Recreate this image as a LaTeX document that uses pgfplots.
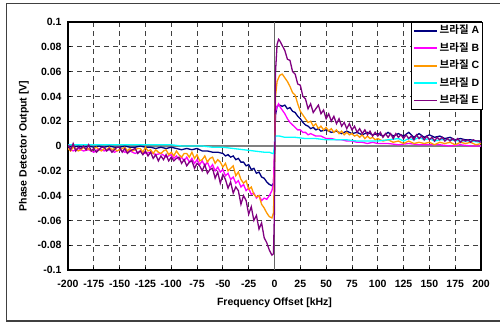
\documentclass[border=0pt]{standalone}
\usepackage{fontspec}
\setmainfont{Liberation Sans}
\newfontfamily\kr{Noto Sans CJK KR}[BoldFont={Noto Sans CJK KR Bold}]
\usepackage{pgfplots}
\pgfplotsset{compat=1.18}
\usepackage{pgfplotstable}
\definecolor{cA}{RGB}{0,0,128}
\definecolor{cB}{RGB}{255,0,255}
\definecolor{cC}{RGB}{255,153,0}
\definecolor{cD}{RGB}{0,255,255}
\definecolor{cE}{RGB}{128,0,128}

\pgfplotstableread{
x y
-200 0.000
-195 -0.001
-190 0.000
-185 -0.001
-180 0.000
-175 -0.001
-170 0.000
-165 -0.001
-160 0.000
-155 -0.001
-150 -0.001
-145 0.000
-140 -0.001
-135 -0.001
-130 0.000
-125 -0.001
-120 -0.001
-115 -0.002
-110 -0.001
-105 -0.002
-100 -0.001
-95 -0.002
-90 -0.003
-85 -0.002
-80 -0.003
-75 -0.002
-70 -0.004
-65 -0.004
-60 -0.005
-55 -0.005
-50 -0.006
-47.5 -0.008
-45 -0.007
-42.5 -0.009
-40 -0.008
-37.5 -0.011
-35 -0.010
-32.5 -0.013
-30 -0.013
-27.5 -0.016
-25 -0.015
-22.5 -0.019
-20 -0.018
-17.5 -0.022
-15 -0.021
-12.5 -0.025
-10 -0.026
-7.5 -0.029
-5 -0.031
-2.5 -0.032
-1 -0.030
0 -0.010
0.5 0.010
1 0.025
2.5 0.032
5 0.033
7.5 0.032
10 0.033
12.5 0.030
15 0.031
17.5 0.028
20 0.027
22.5 0.024
25 0.022
27.5 0.019
30 0.017
32.5 0.016
35 0.014
37.5 0.015
40 0.013
42.5 0.014
45 0.012
50 0.013
55 0.011
60 0.012
65 0.010
70 0.012
75 0.010
80 0.011
85 0.009
90 0.011
95 0.009
100 0.010
105 0.008
110 0.011
115 0.008
120 0.010
125 0.008
130 0.011
135 0.007
140 0.010
145 0.007
150 0.009
155 0.007
160 0.008
165 0.006
170 0.007
175 0.005
180 0.006
185 0.005
190 0.005
195 0.004
200 0.004
}\dataA

\pgfplotstableread{
x y
-200 -0.002
-195 -0.004
-190 -0.002
-185 -0.004
-180 -0.003
-175 -0.005
-170 -0.002
-165 -0.004
-160 -0.003
-155 -0.005
-150 -0.003
-145 -0.005
-140 -0.004
-135 -0.006
-130 -0.004
-125 -0.006
-120 -0.005
-115 -0.007
-110 -0.006
-105 -0.009
-100 -0.007
-97.5 -0.010
-95 -0.008
-92.5 -0.011
-90 -0.009
-87.5 -0.012
-85 -0.009
-82.5 -0.013
-80 -0.010
-77.5 -0.014
-75 -0.011
-72.5 -0.015
-70 -0.012
-67.5 -0.016
-65 -0.013
-62.5 -0.018
-60 -0.015
-57.5 -0.020
-55 -0.017
-52.5 -0.021
-50 -0.019
-47.5 -0.024
-45 -0.022
-42.5 -0.027
-40 -0.025
-37.5 -0.030
-35 -0.028
-32.5 -0.033
-30 -0.031
-27.5 -0.036
-25 -0.034
-22.5 -0.039
-20 -0.038
-17.5 -0.042
-15 -0.040
-12.5 -0.044
-10 -0.042
-7.5 -0.043
-5 -0.040
-2.5 -0.036
-1 -0.030
0 0.000
1 0.028
2.5 0.032
4 0.034
5 0.032
7.5 0.029
10 0.026
12.5 0.022
15 0.019
17.5 0.017
20 0.015
22.5 0.013
25 0.013
27.5 0.011
30 0.011
32.5 0.009
35 0.010
40 0.008
45 0.008
50 0.006
55 0.006
60 0.005
65 0.005
70 0.004
75 0.004
80 0.003
85 0.003
90 0.002
95 0.003
100 0.002
110 0.002
120 0.001
130 0.002
140 0.001
150 0.001
160 0.001
170 0.000
180 0.001
190 0.000
200 0.000
}\dataB

\pgfplotstableread{
x y
-200 -0.002
-197.5 -0.004
-195 -0.001
-192.5 -0.002
-190 -0.004
-187.5 -0.003
-185 -0.001
-182.5 -0.003
-180 -0.002
-177.5 -0.004
-175 -0.002
-172.5 -0.001
-170 -0.003
-167.5 -0.004
-165 -0.002
-162.5 -0.003
-160 -0.001
-157.5 -0.003
-155 -0.002
-152.5 -0.004
-150 -0.003
-147.5 -0.002
-145 -0.001
-142.5 -0.004
-140 -0.002
-137.5 -0.004
-135 -0.003
-132.5 -0.002
-130 -0.002
-127.5 -0.005
-125 -0.001
-122.5 -0.004
-120 -0.003
-117.5 -0.006
-115 -0.003
-112.5 -0.005
-110 -0.006
-107.5 -0.004
-105 -0.003
-102.5 -0.007
-100 -0.005
-97.5 -0.008
-95 -0.004
-92.5 -0.007
-90 -0.009
-87.5 -0.006
-85 -0.006
-82.5 -0.009
-80 -0.005
-77.5 -0.010
-75 -0.007
-72.5 -0.012
-70 -0.011
-67.5 -0.008
-65 -0.013
-62.5 -0.010
-60 -0.009
-57.5 -0.014
-55 -0.011
-52.5 -0.013
-50 -0.017
-47.5 -0.014
-45 -0.020
-42.5 -0.018
-40 -0.016
-37.5 -0.024
-35 -0.021
-32.5 -0.027
-30 -0.030
-27.5 -0.028
-25 -0.035
-22.5 -0.033
-20 -0.039
-17.5 -0.041
-15 -0.040
-12.5 -0.047
-10 -0.050
-7.5 -0.054
-5 -0.057
-2.5 -0.058
-1 -0.054
0 -0.020
0.5 0.020
1 0.040
2.5 0.052
5 0.057
7.5 0.058
10 0.055
12.5 0.052
15 0.048
17.5 0.043
20 0.041
22.5 0.034
25 0.028
27.5 0.025
30 0.022
32.5 0.019
35 0.020
37.5 0.016
40 0.018
42.5 0.014
45 0.016
47.5 0.013
50 0.015
52.5 0.012
55 0.014
57.5 0.011
60 0.013
62.5 0.010
65 0.012
67.5 0.009
70 0.011
72.5 0.009
75 0.010
77.5 0.008
80 0.009
82.5 0.007
85 0.009
87.5 0.006
90 0.008
92.5 0.006
95 0.007
97.5 0.005
100 0.006
105 0.004
110 0.005
115 0.003
120 0.004
125 0.002
130 0.004
135 0.002
140 0.003
145 0.002
150 0.003
155 0.001
160 0.003
165 0.002
170 0.003
175 0.001
180 0.003
185 0.002
190 0.003
195 0.001
200 0.002
}\dataC

\pgfplotstableread{
x y
-200 0.001
-190 0.001
-180 0.001
-170 0.001
-160 0.001
-150 0.001
-140 0.001
-130 0.001
-120 0.001
-110 0.001
-100 0.001
-90 0.000
-80 0.000
-70 0.000
-60 -0.001
-50 -0.001
-40 -0.002
-30 -0.003
-20 -0.004
-10 -0.005
-5 -0.005
-2 -0.006
-1 -0.006
0 0.000
0.5 0.006
1 0.008
5 0.008
10 0.007
20 0.007
30 0.006
40 0.006
50 0.005
60 0.005
70 0.005
80 0.004
90 0.004
100 0.004
110 0.005
120 0.006
125 0.004
130 0.006
135 0.005
140 0.007
145 0.005
150 0.006
155 0.004
160 0.005
170 0.005
180 0.004
190 0.004
200 0.003
}\dataD

\pgfplotstableread{
x y
-200 0.001
-197.5 -0.003
-195 0.002
-192.5 -0.004
-190 -0.001
-187.5 -0.002
-185 0.000
-182.5 -0.003
-180 0.001
-177.5 -0.004
-175 -0.002
-172.5 -0.005
-170 -0.003
-167.5 -0.001
-165 -0.001
-162.5 -0.004
-160 -0.002
-157.5 -0.005
-155 -0.003
-152.5 -0.001
-150 -0.001
-147.5 -0.005
-145 -0.002
-142.5 -0.006
-140 -0.004
-137.5 -0.003
-135 -0.002
-132.5 -0.006
-130 -0.004
-127.5 -0.007
-125 -0.004
-122.5 -0.008
-120 -0.005
-117.5 -0.010
-115 -0.007
-112.5 -0.012
-110 -0.008
-107.5 -0.011
-105 -0.007
-102.5 -0.012
-100 -0.009
-97.5 -0.012
-95 -0.010
-92.5 -0.009
-90 -0.014
-87.5 -0.011
-85 -0.016
-82.5 -0.013
-80 -0.012
-77.5 -0.018
-75 -0.014
-72.5 -0.016
-70 -0.020
-67.5 -0.015
-65 -0.022
-62.5 -0.019
-60 -0.018
-57.5 -0.026
-55 -0.021
-52.5 -0.030
-50 -0.023
-47.5 -0.027
-45 -0.034
-42.5 -0.029
-40 -0.038
-37.5 -0.033
-35 -0.036
-32.5 -0.047
-30 -0.040
-27.5 -0.044
-25 -0.055
-22.5 -0.049
-20 -0.060
-17.5 -0.056
-15 -0.067
-12.5 -0.062
-10 -0.074
-7.5 -0.078
-5 -0.084
-2.5 -0.088
-1 -0.087
0 -0.050
0.5 0.020
1 0.060
2.5 0.082
4 0.086
5 0.085
7.5 0.081
10 0.077
12.5 0.070
15 0.069
17.5 0.060
20 0.058
22.5 0.050
25 0.049
27.5 0.040
30 0.038
32.5 0.030
35 0.034
37.5 0.027
40 0.030
42.5 0.033
45 0.026
47.5 0.029
50 0.022
52.5 0.026
55 0.020
57.5 0.024
60 0.018
62.5 0.022
65 0.016
67.5 0.019
70 0.014
72.5 0.018
75 0.013
77.5 0.016
80 0.011
82.5 0.014
85 0.010
87.5 0.013
90 0.009
92.5 0.012
95 0.008
97.5 0.011
100 0.008
102.5 0.011
105 0.007
107.5 0.010
110 0.007
112.5 0.010
115 0.006
117.5 0.010
120 0.007
122.5 0.009
125 0.006
127.5 0.009
130 0.006
132.5 0.008
135 0.005
137.5 0.009
140 0.006
142.5 0.008
145 0.005
147.5 0.008
150 0.005
152.5 0.007
155 0.004
157.5 0.007
160 0.005
162.5 0.007
165 0.004
167.5 0.006
170 0.004
172.5 0.006
175 0.004
177.5 0.006
180 0.003
182.5 0.005
185 0.004
187.5 0.005
190 0.003
192.5 0.005
195 0.004
197.5 0.004
200 0.003
}\dataE

\begin{document}
\begin{tikzpicture}[x=1bp,y=1bp]
\useasboundingbox (0,0) rectangle (500,322);
\draw[line width=1.5bp, black!75] (6.5,1) rectangle (502,318.5);
\begin{axis}[
  at={(68bp,52bp)}, anchor=south west,
  scale only axis, width=413bp, height=248bp,
  xmin=-200, xmax=200, ymin=-0.1, ymax=0.1,
  xtick={-200,-175,-150,-125,-100,-75,-50,-25,0,25,50,75,100,125,150,175,200},
  xticklabels={-200,-175,-150,-125,-100,-75,-50,-25,0,25,50,75,100,125,150,175,200},
  ytick={-0.1,-0.08,-0.06,-0.04,-0.02,0,0.02,0.04,0.06,0.08,0.1},
  yticklabels={-0.1,-0.08,-0.06,-0.04,-0.02,0,0.02,0.04,0.06,0.08,0.1},
  tick align=inside, tick pos=left,
  major tick length=3bp,
  tick style={black, line width=0.8bp},
  axis line style={black, line width=1.2bp},
  grid=major,
  major grid style={black!75, line width=0.8bp, dash pattern=on 5bp off 4bp},
  ticklabel style={font=\fontsize{10.5bp}{12bp}\selectfont\bfseries},
  yticklabel style={xshift=-3bp},
  xticklabel style={yshift=-7bp},
  xlabel={\bfseries Frequency Offset [kHz]},
  ylabel={\bfseries Phase Detector Output [V]},
  label style={font=\fontsize{10.5bp}{12bp}\selectfont},
  xlabel style={at={(axis description cs:0.5,-0.133)}, anchor=center},
  ylabel style={at={(axis description cs:-0.1065,0.5)}, anchor=center},
  legend style={at={(axis description cs:1.005,1)}, anchor=north east,
    draw=black, line width=0.8bp, fill=white,
    font=\fontsize{10.5bp}{12bp}\selectfont\bfseries,
    inner xsep=1.5bp, inner ysep=1.5bp, row sep=3.4bp,
    nodes={inner sep=2bp, text height=8bp, text depth=2bp}},
  legend cell align=left,
  legend image code/.code={\draw[#1, line width=1.7bp] (0bp,0bp) -- (23bp,0bp);},
  every axis plot/.append style={line width=1.3bp},
]
\addplot[gray, line width=1.5bp, forget plot] coordinates {(-200,0) (200,0)};
\addplot[black!60, line width=1.5bp, forget plot] coordinates {(0,-0.1) (0,0.1)};
\addplot[cA] table {\dataA};
\addlegendentry{{\kr\bfseries 브라질} A}
\addplot[cB] table {\dataB};
\addlegendentry{{\kr\bfseries 브라질} B}
\addplot[cC] table {\dataC};
\addlegendentry{{\kr\bfseries 브라질} C}
\addplot[cD] table {\dataD};
\addlegendentry{{\kr\bfseries 브라질} D}
\addplot[cE] table {\dataE};
\addlegendentry{{\kr\bfseries 브라질} E}
\end{axis}
\end{tikzpicture}
\end{document}
